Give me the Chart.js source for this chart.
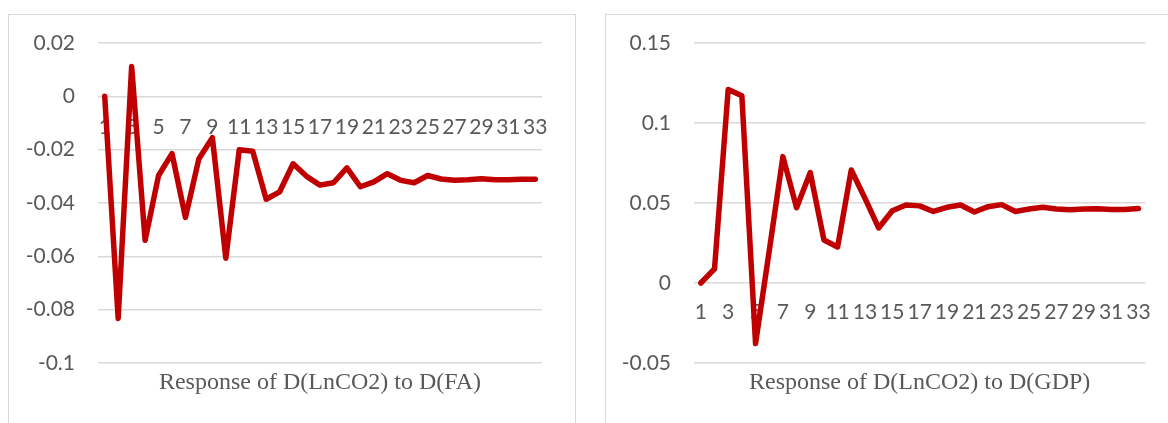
<!DOCTYPE html>
<html>
<head>
<meta charset="utf-8">
<script src="https://cdn.jsdelivr.net/npm/chart.js@4/dist/chart.umd.min.js"></script>
<style>
  html, body { margin: 0; padding: 0; background: #ffffff; }
  body { width: 1168px; height: 423px; position: relative; overflow: hidden; }
  .frame { position: absolute; border: 1px solid #d9d9d9; box-sizing: border-box; }
  #f1 { left: 8px; top: 14px; width: 568px; height: 440px; }
  #f2 { left: 605px; top: 14px; width: 600px; height: 440px; }
  canvas { position: absolute; top: 0; }
  #c1 { left: 0; }
  #c2 { left: 584px; }
</style>
</head>
<body>
<div class="frame" id="f1"></div>
<div class="frame" id="f2"></div>
<canvas id="c1" width="584" height="423"></canvas>
<canvas id="c2" width="584" height="423"></canvas>
<script>
// ---- data ----
const periods = ['1','2','3','4','5','6','7','8','9','10','11','12','13','14','15','16','17','18','19','20','21','22','23','24','25','26','27','28','29','30','31','32','33'];
const responseFA = [0, -0.0833, 0.0112, -0.0540, -0.0297, -0.0215, -0.0454, -0.0234, -0.0155, -0.0607, -0.0200, -0.0206, -0.0386, -0.0358, -0.0253, -0.0300, -0.0333, -0.0324, -0.0268, -0.0339, -0.0321, -0.0290, -0.0315, -0.0324, -0.0297, -0.0310, -0.0315, -0.0313, -0.0309, -0.0313, -0.0313, -0.0311, -0.0311];
const responseGDP = [0, 0.0088, 0.1210, 0.1170, -0.0378, 0.0200, 0.0790, 0.0470, 0.0690, 0.0269, 0.0225, 0.0706, 0.0530, 0.0344, 0.0452, 0.0488, 0.0482, 0.0447, 0.0473, 0.0487, 0.0444, 0.0477, 0.0490, 0.0447, 0.0462, 0.0473, 0.0462, 0.0458, 0.0462, 0.0464, 0.0460, 0.0460, 0.0466];
const yTicksFA = [0.02, 0, -0.02, -0.04, -0.06, -0.08, -0.1];
const yTicksGDP = [0.15, 0.1, 0.05, 0, -0.05];
const titleFA = 'Response of D(LnCO2) to D(FA)';
const titleGDP = 'Response of D(LnCO2) to D(GDP)';

const tickFont = { family: 'Lato', size: 21 };
const tickColor = '#595959';

function makeChart(canvasId, values, yTicks, title, yAxisWidth, padRight, labelPad) {
  const yMin = Math.min(...yTicks), yMax = Math.max(...yTicks);
  return new Chart(document.getElementById(canvasId), {
    type: 'line',
    data: {
      labels: periods,
      datasets: [{
        data: values,
        borderColor: '#c00000',
        backgroundColor: '#c00000',
        borderWidth: 5.5,
        pointRadius: 0,
        pointHoverRadius: 0,
        tension: 0,
        borderJoinStyle: 'round',
        borderCapStyle: 'round',
        fill: false
      }]
    },
    options: {
      responsive: false,
      animation: false,
      events: [],
      layout: { padding: { left: 0, top: 43, right: padRight, bottom: 21.6 } },
      plugins: { legend: { display: false }, title: { display: false }, tooltip: { enabled: false } },
      scales: {
        x: {
          type: 'category',
          position: { y: 0 },
          offset: true,
          grid: { display: false, drawTicks: false },
          border: { display: false },
          ticks: {
            autoSkip: false, minRotation: 0, maxRotation: 0,
            padding: labelPad,
            font: tickFont, color: tickColor,
            callback: function (v, i) { return i % 2 === 0 ? this.getLabelForValue(v) : ''; }
          }
        },
        xTitle: {
          type: 'category',
          position: 'bottom',
          offset: true,
          grid: { display: false, drawTicks: false },
          border: { display: false },
          ticks: { display: false },
          title: {
            display: true, text: title,
            font: { family: 'Liberation Serif', size: 24 },
            color: '#595959',
            padding: { top: 5.6, bottom: 4 }
          }
        },
        y: {
          min: yMin, max: yMax,
          grid: { color: '#d9d9d9', lineWidth: 1.5, drawTicks: false },
          border: { display: false },
          ticks: { padding: 23, font: tickFont, color: tickColor, callback: v => String(v) },
          afterBuildTicks: s => { s.ticks = yTicks.map(v => ({ value: v })); },
          afterFit: s => { s.width = yAxisWidth; }
        }
      }
    }
  });
}

makeChart('c1', responseFA, yTicksFA, titleFA, 98, 42, 18);
makeChart('c2', responseGDP, yTicksGDP, titleGDP, 110, 20, 17);
</script>
</body>
</html>
